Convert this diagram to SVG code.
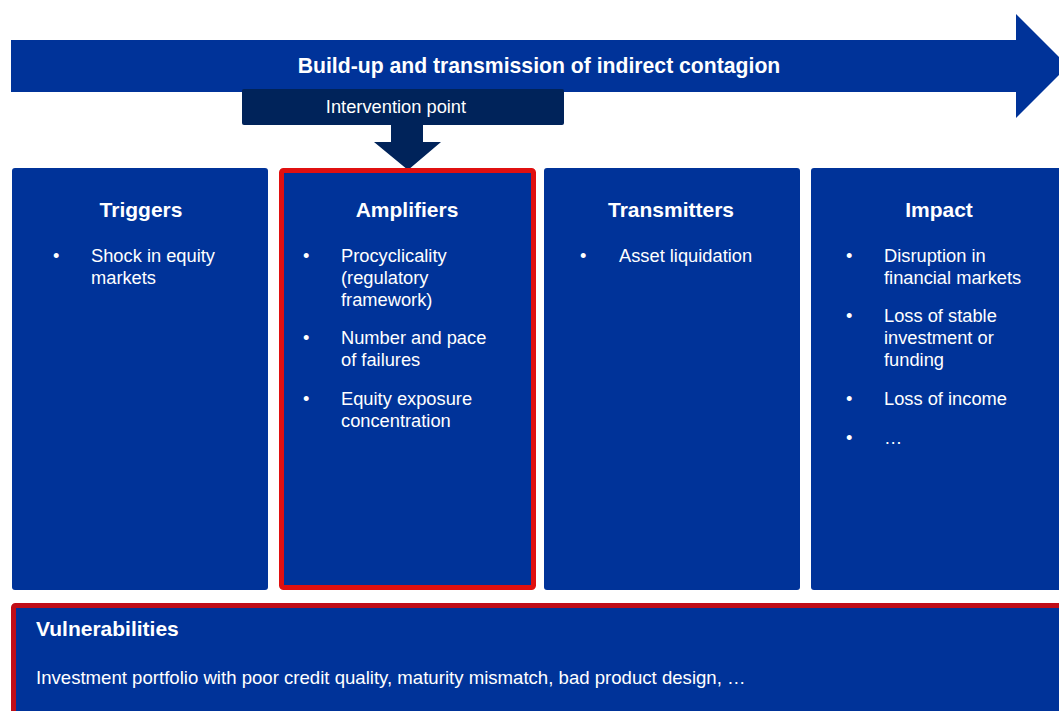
<svg xmlns="http://www.w3.org/2000/svg" width="1059" height="711" viewBox="0 0 1059 711">
<style>
.blue{fill:#003399}
.navy{fill:#00235A}
.t{font-family:"Liberation Sans",Arial,sans-serif;fill:#fff}
.h{font-size:21px;font-weight:bold}
.b{font-size:18.3px}
</style>
<rect width="1059" height="711" fill="#fff"/>
<g id="contagion-arrow">
<polygon class="blue" points="11,40 1016,40 1016,14 1068,66 1016,118 1016,92 11,92"/>
<text class="t h" x="539" y="73" text-anchor="middle" style="font-size:21.2px">Build-up and transmission of indirect contagion</text>
</g>
<g id="intervention">
<rect class="navy" x="242" y="89" width="322" height="36" rx="2"/>
<polygon class="navy" points="391,125 423,125 423,142 441,142 408,170 374,142 391,142"/>
<text class="t b" x="396" y="113" text-anchor="middle">Intervention point</text>
</g>
<g id="triggers">
<rect class="blue" x="12" y="168" width="256" height="422" rx="3"/>
<text class="t h" x="141" y="217" text-anchor="middle">Triggers</text>
<g class="t b"><text x="53" y="262">•</text><text x="91" y="262">Shock in equity</text><text x="91" y="284">markets</text></g>
</g>
<g id="amplifiers">
<rect class="blue" x="281.5" y="170.5" width="252" height="417" rx="2" stroke="#E01010" stroke-width="5"/>
<text class="t h" x="407" y="217" text-anchor="middle">Amplifiers</text>
<g class="t b">
<text x="303" y="262">•</text><text x="341" y="262">Procyclicality</text><text x="341" y="284">(regulatory</text><text x="341" y="306">framework)</text>
<text x="303" y="344">•</text><text x="341" y="344">Number and pace</text><text x="341" y="366">of failures</text>
<text x="303" y="405">•</text><text x="341" y="405">Equity exposure</text><text x="341" y="427">concentration</text>
</g>
</g>
<g id="transmitters">
<rect class="blue" x="544" y="168" width="256" height="422" rx="3"/>
<text class="t h" x="671" y="217" text-anchor="middle">Transmitters</text>
<g class="t b"><text x="580" y="262">•</text><text x="619" y="262">Asset liquidation</text></g>
</g>
<g id="impact">
<rect class="blue" x="811" y="168" width="256" height="422" rx="3"/>
<text class="t h" x="939" y="217" text-anchor="middle">Impact</text>
<g class="t b">
<text x="846" y="262">•</text><text x="884" y="262">Disruption in</text><text x="884" y="284">financial markets</text>
<text x="846" y="322">•</text><text x="884" y="322">Loss of stable</text><text x="884" y="344">investment or</text><text x="884" y="366">funding</text>
<text x="846" y="405">•</text><text x="884" y="405">Loss of income</text>
<text x="846" y="444">•</text><text x="884" y="444">…</text>
</g>
</g>
<g id="vulnerabilities">
<rect x="13.5" y="605.5" width="1060" height="120" rx="2" fill="#003399" stroke="#C00E18" stroke-width="5"/>
<text class="t h" x="36" y="636">Vulnerabilities</text>
<text class="t b" x="36" y="684" style="font-size:18.6px">Investment portfolio with poor credit quality, maturity mismatch, bad product design, …</text>
</g>
<g id="connectors"></g>
</svg>
